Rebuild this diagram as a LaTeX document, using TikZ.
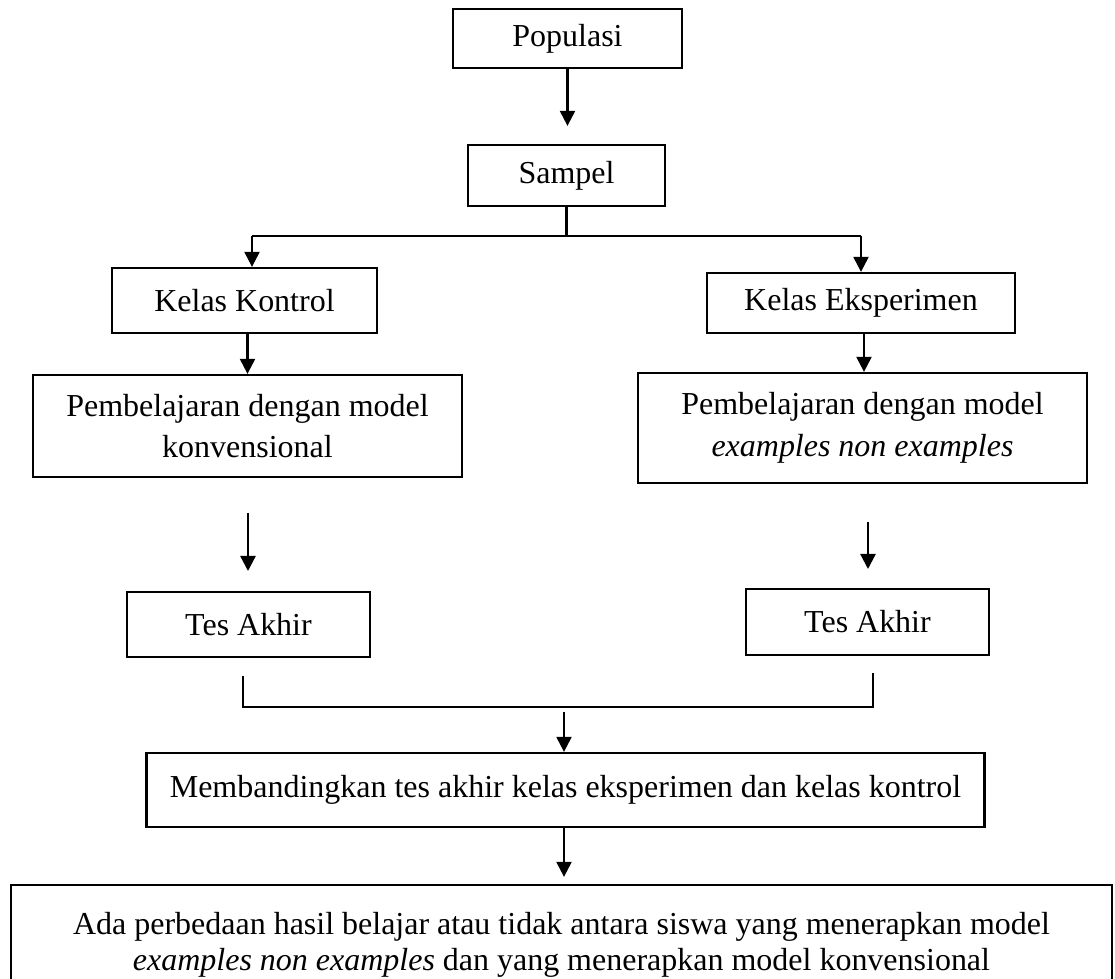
\documentclass[tikz,border=0pt]{standalone}
\usepackage{fontspec}
\setmainfont{Liberation Serif}
\usetikzlibrary{arrows.meta}

\tikzset{
    kotak/.style = {draw, line width=1.3pt, align=center, inner sep=2pt,
        font=\fontsize{18.2}{23.8}\selectfont},
    panah/.style = {line width=1.3pt, -{Triangle[length=0.3cm,width=0.3cm]}},
    garis/.style = {line width=1.3pt}
}

\begin{document}
\begin{tikzpicture}

    \useasboundingbox (0,0) rectangle (22.3,-19.58);
    \clip (0,0) rectangle (22.3,-19.58);

    \node[kotak, minimum width=4.58cm, minimum height=1.18cm] (pop) at (11.35,-0.77) {Populasi};
    \node[kotak, minimum width=3.94cm, minimum height=1.22cm] (smp) at (11.33,-3.51) {Sampel};
    \node[kotak, minimum width=5.30cm, minimum height=1.30cm] (kk) at (4.89,-6.01) {Kelas Kontrol};
    \node[kotak, minimum width=6.16cm, minimum height=1.20cm] (ke) at (17.22,-6.06) {Kelas Eksperimen};
    \node[kotak, minimum width=8.58cm, minimum height=2.04cm] (pk) at (4.95,-8.52) {Pembelajaran dengan model\\konvensional};
    \node[kotak, minimum width=8.98cm, minimum height=2.20cm] (pe) at (17.25,-8.56) {Pembelajaran dengan model\\\textit{examples non examples}};
    \node[kotak, minimum width=4.86cm, minimum height=1.30cm] (tk) at (4.97,-12.49) {Tes Akhir};
    \node[kotak, minimum width=4.86cm, minimum height=1.32cm] (te) at (17.35,-12.44) {Tes Akhir};
    \node[kotak, minimum width=16.76cm, minimum height=1.48cm] (mb) at (11.31,-15.80) {Membandingkan tes akhir kelas eksperimen dan kelas kontrol};
    \node[kotak, minimum width=22.02cm, minimum height=2.40cm, font=\fontsize{18.2}{20.8}\selectfont] (ad) at (11.23,-18.90)
        {Ada perbedaan hasil belajar atau tidak antara siswa yang menerapkan model\\\textit{examples non examples} dan yang menerapkan model konvensional};

    % cabang dari sampel
    \coordinate (cl) at (5.04,-4.72);
    \coordinate (cr) at (17.22,-4.72);
    % panah lepas ke tes akhir
    \coordinate (al1) at (4.96,-10.26);
    \coordinate (al2) at (4.96,-11.42);
    \coordinate (ar1) at (17.36,-10.44);
    \coordinate (ar2) at (17.36,-11.38);
    % kurung tes akhir
    \coordinate (kl) at (4.86,-13.52);
    \coordinate (kr) at (17.46,-13.46);
    \coordinate (ka) at (11.28,-14.24);

    \draw[panah, shorten >=0.36cm] (pop.south) -- (pop.south |- smp.north);
    \draw[garis] (smp.south) -- (smp.south |- cl);
    \draw[garis] (cl) -- (cr);
    \draw[panah] (cl) -- (cl |- kk.north);
    \draw[panah] (cr) -- (cr |- ke.north);
    \draw[panah] (pk.north |- kk.south) -- (pk.north);
    \draw[panah] (17.28,0 |- ke.south) -- (17.28,0 |- pe.north);
    \draw[panah] (al1) -- (al2);
    \draw[panah] (ar1) -- (ar2);
    \draw[garis] (kl) -- (kl |- 0,-14.14) -- (kr |- 0,-14.14) -- (kr);
    \draw[panah] (ka) -- (ka |- mb.north);
    \draw[panah, shorten >=0.14cm] (mb.south -| ka) -- (ka |- ad.north);
    \end{tikzpicture}
\end{document}
